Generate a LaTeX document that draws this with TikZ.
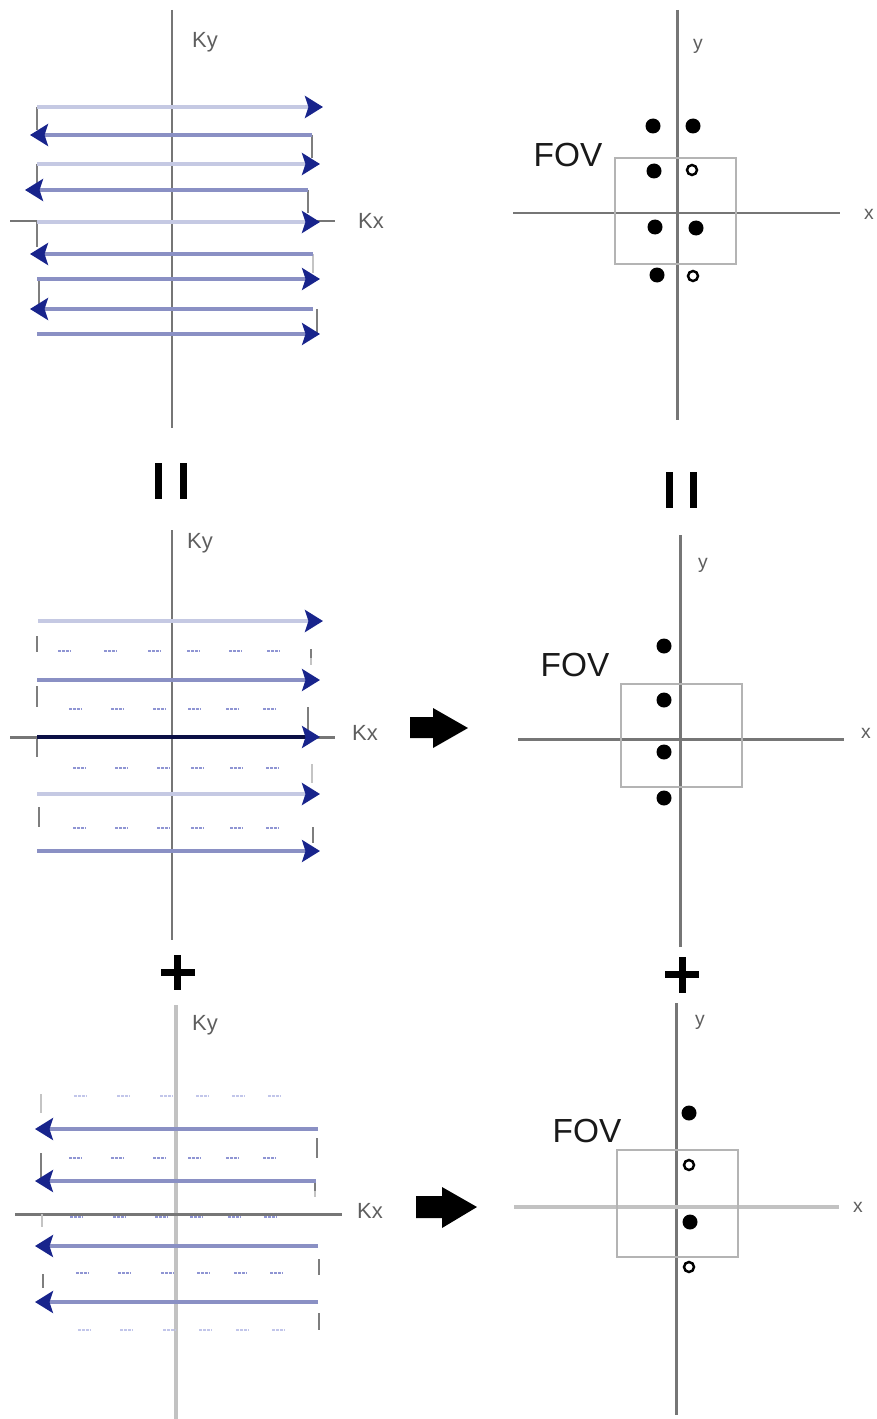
\documentclass[tikz,border=0pt]{standalone}
\usepackage{fontspec}
\setmainfont{Liberation Sans}
\usetikzlibrary{arrows.meta}
\definecolor{axisgray}{HTML}{767676}
\definecolor{paleaxis}{HTML}{C2C2C2}
\definecolor{lightline}{HTML}{C5C9E3}
\definecolor{medline}{HTML}{8A90C4}
\definecolor{navyline}{HTML}{0B0F45}
\definecolor{tipblue}{HTML}{18248C}
\definecolor{conngray}{HTML}{7E7E7E}
\definecolor{connpale}{HTML}{C4C4C4}
\definecolor{dotblue}{HTML}{8F95D3}
\definecolor{dotpale}{HTML}{C2C6EA}
\definecolor{boxgray}{HTML}{B4B4B4}
\definecolor{labgray}{HTML}{5E5E5E}
\begin{document}
\begin{tikzpicture}[x=0.02cm,y=-0.02cm,
  axis/.style={draw=axisgray,line width=1.7pt},
  paleax/.style={draw=paleaxis,line width=2.3pt},
  tipR/.style={-{Stealth[length=0.36cm,width=0.44cm,inset=0.07cm,color=tipblue]}},
  lightrow/.style={draw=lightline,line width=2.7pt,tipR},
  medrow/.style={draw=medline,line width=1.9pt,tipR},
  navyrow/.style={draw=navyline,line width=1.9pt,tipR},
  conn/.style={draw=conngray,line width=1.6pt},
  connp/.style={draw=connpale,line width=1.6pt},
  dotrow/.style={draw=dotblue,line width=1.6pt,dash pattern=on 0.055cm off 0.025cm},
  dotrowp/.style={draw=dotpale,line width=1.6pt,dash pattern=on 0.055cm off 0.025cm},
  fovbox/.style={draw=boxgray,line width=1.1pt},
  klab/.style={text=labgray,font=\fontsize{12.5}{14}\selectfont,inner sep=0pt},
  xlab/.style={text=labgray,font=\fontsize{11}{13}\selectfont,inner sep=0pt},
  fovlab/.style={text=black!90,font=\fontsize{19}{22}\selectfont,inner sep=0pt},
  bigdot/.style={fill=black},
  opendot/.style={draw=black,line width=1.4pt,fill=white},
  eqbar/.style={fill=black},
  bigarrow/.style={fill=black}]
\useasboundingbox (0,0) rectangle (876,1419);

% ================= Panel 1 left (k-space full) =================
\draw[axis] (172,10) -- (172,428);
\draw[axis] (10,221) -- (335,221);
\node[klab] (ky1) at (205,42) {Ky};
\node[klab] (kx1) at (371,221) {Kx};
% connectors
\draw[conn] (37,107) -- (37,130);
\draw[conn] (312,135) -- (312,158);
\draw[conn] (37,164) -- (37,183);
\draw[conn] (308,190) -- (308,213);
\draw[conn] (37,222) -- (37,247);
\draw[connp] (313,254) -- (313,273);
\draw[conn] (39,279) -- (39,306);
\draw[conn] (317,309) -- (317,334);
% rows
\draw[lightrow] (37,107) -- (323,107);
\draw[medrow] (312,135) -- (30,135);
\draw[lightrow] (37,164) -- (320,164);
\draw[medrow] (308,190) -- (25,190);
\draw[lightrow] (37,222) -- (320,222);
\draw[medrow] (313,254) -- (30,254);
\draw[medrow] (37,279) -- (320,279);
\draw[medrow] (313,309) -- (30,309);
\draw[medrow] (37,334) -- (320,334);

% ================= Panel 1 right (image) =================
\draw[axis] (677,10) -- (677,420);
\draw[axis] (513,213) -- (840,213);
\node[xlab] (y1) at (698,46) {y};
\node[xlab] (x1) at (869,214) {x};
\node[fovlab] (fov1) at (568,155) {FOV};
\draw[fovbox] (615,158) rectangle (736,264);
\fill[bigdot] (653,126) circle (7.5);
\fill[bigdot] (693,126) circle (7.5);
\fill[bigdot] (654,171) circle (7.5);
\draw[opendot] (692,170) circle (5);
\fill[bigdot] (655,227) circle (7.5);
\fill[bigdot] (696,228) circle (7.5);
\fill[bigdot] (657,275) circle (7.5);
\draw[opendot] (693,276) circle (5);

% ================= equals (rotated) =================
\fill[eqbar] (155,463) rectangle (162,499);
\fill[eqbar] (180,463) rectangle (187,499);
\fill[eqbar] (666,472) rectangle (673,508);
\fill[eqbar] (690,472) rectangle (697,508);

% ================= Panel 2 left =================
\draw[axis] (172,530) -- (172,940);
\draw[axis] (10,737) -- (335,737);
\node[klab] (ky2) at (200,543) {Ky};
\node[klab] (kx2) at (365,733) {Kx};
\draw[conn] (37,636) -- (37,652);
\draw[conn] (311,649) -- (311,658);
\draw[connp] (311,658) -- (311,665);
\draw[conn] (37,686) -- (37,707);
\draw[conn] (308,707) -- (308,732);
\draw[conn] (37,737) -- (37,757);
\draw[connp] (312,764) -- (312,783);
\draw[conn] (39,807) -- (39,827);
\draw[conn] (313,827) -- (313,843);
\foreach \a in {58,104,148,187,229,267} \draw[dotrow] (\a,651) -- ++(13,0);
\foreach \a in {69,111,153,188,226,263} \draw[dotrow] (\a,709) -- ++(13,0);
\foreach \a in {73,115,157,191,230,266} \draw[dotrow] (\a,768) -- ++(13,0);
\foreach \a in {73,115,157,191,230,266} \draw[dotrow] (\a,828) -- ++(13,0);
\draw[lightrow] (38,621) -- (323,621);
\draw[medrow] (37,680) -- (320,680);
\draw[navyrow] (37,737) -- (320,737);
\draw[lightrow] (37,794) -- (320,794);
\draw[medrow] (37,851) -- (320,851);

% big arrow 2
\fill[bigarrow] (410,717) -- (433,717) -- (433,708) -- (468,728) -- (433,748) -- (433,738) -- (410,738) -- cycle;

% ================= Panel 2 right =================
\draw[axis] (680,535) -- (680,947);
\draw[axis] (518,739) -- (844,739);
\node[xlab] (y2) at (703,565) {y};
\node[xlab] (x2) at (866,733) {x};
\node[fovlab] (fov2) at (575,665) {FOV};
\draw[fovbox] (621,684) rectangle (742,787);
\fill[bigdot] (664,646) circle (7.5);
\fill[bigdot] (664,700) circle (7.5);
\fill[bigdot] (664,752) circle (7.5);
\fill[bigdot] (664,798) circle (7.5);

% ================= plus signs =================
\fill[eqbar] (161,969) rectangle (195,976);
\fill[eqbar] (174,955) rectangle (181,990);
\fill[eqbar] (665,971) rectangle (699,978);
\fill[eqbar] (679,957) rectangle (686,993);

% ================= Panel 3 left =================
\draw[paleax] (176,1005) -- (176,1419);
\draw[axis] (15,1214) -- (342,1214);
\node[klab] (ky3) at (205,1025) {Ky};
\node[klab] (kx3) at (370,1211) {Kx};
\draw[connp] (41,1094) -- (41,1113);
\draw[conn] (317,1138) -- (317,1158);
\draw[conn] (41,1153) -- (41,1180);
\draw[conn] (315,1182) -- (315,1191);
\draw[connp] (315,1191) -- (315,1197);
\draw[connp] (42,1214) -- (42,1227);
\draw[conn] (319,1259) -- (319,1275);
\draw[conn] (43,1274) -- (43,1288);
\draw[conn] (319,1313) -- (319,1330);
\foreach \a in {74,117,160,196,232,268} \draw[dotrowp] (\a,1096) -- ++(13,0);
\foreach \a in {69,111,153,188,226,263} \draw[dotrow] (\a,1158) -- ++(13,0);
\foreach \a in {70,113,155,190,228,264} \draw[dotrow] (\a,1217) -- ++(13,0);
\foreach \a in {76,118,161,197,234,270} \draw[dotrow] (\a,1273) -- ++(13,0);
\foreach \a in {78,120,163,199,236,272} \draw[dotrowp] (\a,1330) -- ++(13,0);
\draw[medrow] (318,1129) -- (35,1129);
\draw[medrow] (316,1181) -- (35,1181);
\draw[medrow] (318,1246) -- (35,1246);
\draw[medrow] (318,1302) -- (35,1302);

% big arrow 3
\fill[bigarrow] (416,1196) -- (442,1196) -- (442,1187) -- (477,1207) -- (442,1228) -- (442,1218) -- (416,1218) -- cycle;

% ================= Panel 3 right =================
\draw[axis] (676,1003) -- (676,1415);
\draw[paleax] (514,1207) -- (839,1207);
\node[xlab] (y3) at (700,1022) {y};
\node[xlab] (x3) at (858,1207) {x};
\node[fovlab] (fov3) at (587,1131) {FOV};
\draw[fovbox] (617,1150) rectangle (738,1257);
\fill[bigdot] (689,1113) circle (7.5);
\draw[opendot] (689,1165) circle (5);
\fill[bigdot] (690,1222) circle (7.5);
\draw[opendot] (689,1267) circle (5);
\end{tikzpicture}
\end{document}
